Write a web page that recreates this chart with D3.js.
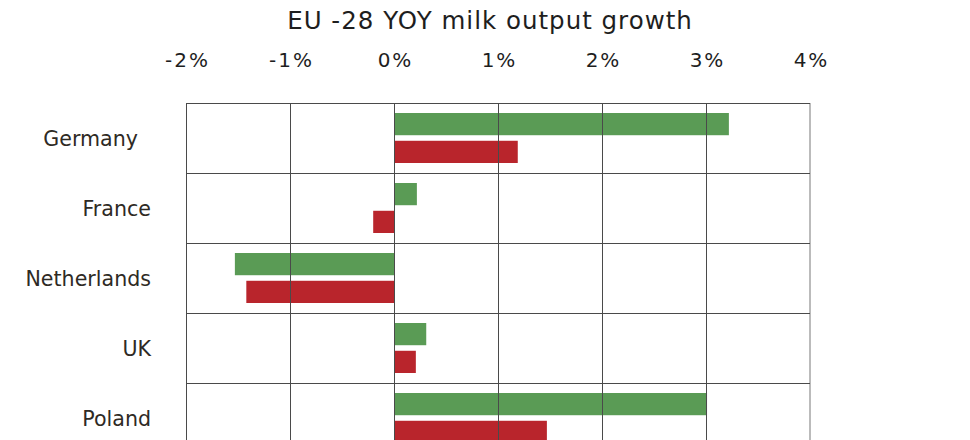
<!DOCTYPE html>
<html>
<head>
<meta charset="utf-8">
<script src="https://cdn.jsdelivr.net/npm/d3@7"></script>
<style>
  html, body { margin: 0; padding: 0; background: #fff; }
  svg { display: block; }
  text { font-family: "DejaVu Sans", sans-serif; }
</style>
</head>
<body>
<svg id="chart" width="970" height="440"></svg>
<script>
const title = "EU -28 YOY milk output growth";
const countries = ["Germany  ", "France", "Netherlands", "UK", "Poland"];
const seriesNames = ["current", "previous"];
const currentGrowth = [3.22, 0.22, -1.53, 0.31, 3.01];
const previousGrowth = [1.19, -0.2, -1.42, 0.21, 1.47];
const tickValues = [-2, -1, 0, 1, 2, 3, 4];
const seriesColors = ["#5a9b55", "#b9252c"];

const svg = d3.select("#chart");
const plotLeft = 186, plotRight = 810, plotTop = 103, rowH = 70;

const x = d3.scaleLinear().domain([-2, 4]).range([plotLeft, plotRight]);
const y = d3.scaleBand().domain(countries).range([plotTop, plotTop + rowH * countries.length]).padding(0);
const sub = d3.scaleBand().domain(seriesNames).range([10, 60]).paddingInner(0.2);

const data = countries.map((c, i) => ({
  country: c,
  values: [
    { key: seriesNames[0], v: currentGrowth[i] },
    { key: seriesNames[1], v: previousGrowth[i] }
  ]
}));

// title
svg.append("text")
  .attr("x", 490).attr("y", 29)
  .attr("text-anchor", "middle")
  .attr("font-size", 24.5)
  .attr("letter-spacing", 1)
  .attr("fill", "#1e1e1e")
  .text(title);

// bars
const rows = svg.append("g").selectAll("g").data(data).join("g")
  .attr("transform", d => `translate(0,${y(d.country)})`);
rows.selectAll("rect").data(d => d.values).join("rect")
  .attr("x", d => x(Math.min(0, d.v)))
  .attr("width", d => Math.abs(x(d.v) - x(0)))
  .attr("y", d => sub(d.key))
  .attr("height", sub.bandwidth())
  .attr("fill", (d, i) => seriesColors[i]);

// vertical grid lines
svg.append("g").selectAll("line").data(tickValues).join("line")
  .attr("x1", d => x(d)).attr("x2", d => x(d))
  .attr("y1", plotTop).attr("y2", plotTop + rowH * countries.length)
  .attr("stroke", d => d === 4 ? "#bbb" : "#4a4a4a")
  .attr("stroke-width", d => d === 4 ? 2 : 1)
  .attr("shape-rendering", "crispEdges");

// horizontal row separators
svg.append("g").selectAll("line").data(countries).join("line")
  .attr("x1", plotLeft).attr("x2", plotRight)
  .attr("y1", d => y(d)).attr("y2", d => y(d))
  .attr("stroke", "#4a4a4a")
  .attr("shape-rendering", "crispEdges");

// top axis labels
const axis = svg.append("g")
  .attr("transform", `translate(0,${plotTop})`)
  .call(d3.axisTop(x).tickValues(tickValues).tickFormat(d => `${d}%`).tickSize(0).tickPadding(36));
axis.select(".domain").remove();
axis.selectAll("text")
  .attr("font-family", "DejaVu Sans, sans-serif")
  .attr("font-size", 20)
  .attr("letter-spacing", 2)
  .attr("dx", 1)
  .attr("fill", "#1e1e1e");

// country labels
svg.append("g").selectAll("text").data(countries).join("text")
  .attr("x", 151)
  .attr("y", d => y(d) + rowH / 2 + 8)
  .attr("text-anchor", "end")
  .attr("font-size", 20.6)
  .attr("fill", "#2e2a24")
  .style("white-space", "pre")
  .text(d => d);
</script>
</body>
</html>
